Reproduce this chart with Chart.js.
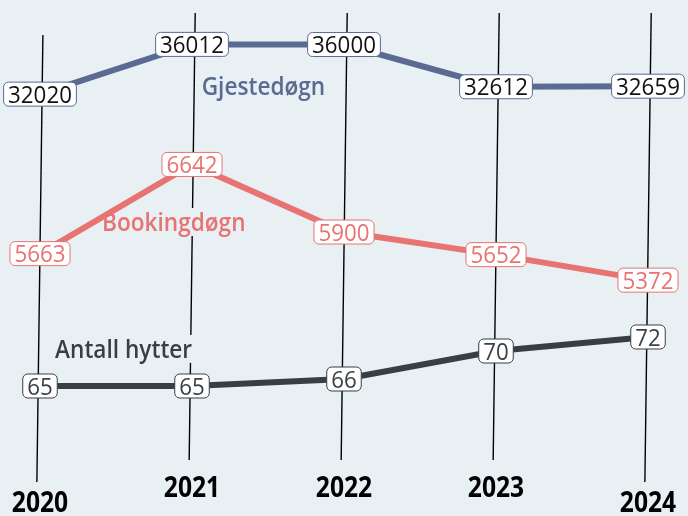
<!DOCTYPE html>
<html>
<head>
<meta charset="utf-8">
<script src="https://cdn.jsdelivr.net/npm/chart.js@4"></script>
<style>
  html, body { margin: 0; padding: 0; background: #e8f0f4; }
  #wrap { width: 688px; height: 516px; position: relative; }
</style>
</head>
<body>
<div id="wrap"><canvas id="chart"></canvas></div>
<script>
// data
const years = ['2020', '2021', '2022', '2023', '2024'];
const gjestedogn = [32020, 36012, 36000, 32612, 32659];
const bookingdogn = [5663, 6642, 5900, 5652, 5372];
const antallHytter = [65, 65, 66, 70, 72];
const seriesNames = ['Gjestedøgn', 'Bookingdøgn', 'Antall hytter'];

// look
const BG = '#e8f0f4';
const colors = ['#5a6a93', '#e87373', '#373f42'];
const valueTextColors = ['#111111', '#e87373', '#3a4245'];
const FONT = '"Open Sans", sans-serif';

// where the series names sit: [x index, value on the series' own axis]
const nameSpots = [[1.47, 32673], [0.88, 6010], [0.55, 70.3]];
// years dropped a bit lower (first and last)
const yearDrop = [1, 0, 0, 0, 1];

function textWidth(ctx, text, size, weight, sx) {
  ctx.save();
  ctx.font = weight + ' ' + size + 'px ' + FONT;
  const w = ctx.measureText(text).width * sx;
  ctx.restore();
  return w;
}

function squeezedText(ctx, text, x, y, size, weight, color, sx) {
  ctx.save();
  ctx.font = weight + ' ' + size + 'px ' + FONT;
  ctx.translate(x, y + size * 0.357);
  ctx.scale(sx, 1);
  ctx.fillStyle = color;
  ctx.textAlign = 'center';
  ctx.textBaseline = 'alphabetic';
  ctx.fillText(text, 0, 0);
  ctx.restore();
}

const decorPlugin = {
  id: 'decor',
  beforeDatasetsDraw(chart) {
    const ctx = chart.ctx;
    const xs = chart.scales.x;
    // slanted year lines
    ctx.save();
    ctx.strokeStyle = '#000';
    ctx.lineWidth = 1.4;
    years.forEach((y, i) => {
      const xc = xs.getPixelForValue(i);
      const top = i === 0 ? 35 : 13;
      const bottom = yearDrop[i] ? 482 : 460;
      ctx.beginPath();
      ctx.moveTo(xc - 0.0135 * (top - 250), top);
      ctx.lineTo(xc - 0.0135 * (bottom - 250), bottom);
      ctx.stroke();
    });
    ctx.restore();

    // series names with a background knockout
    const axes = ['yG', 'yB', 'yH'];
    seriesNames.forEach((name, i) => {
      const x = xs.getPixelForValue(nameSpots[i][0]);
      const y = chart.scales[axes[i]].getPixelForValue(nameSpots[i][1]);
      const w = textWidth(ctx, name, 25, 600, 0.905);
      ctx.fillStyle = BG;
      ctx.fillRect(x - w / 2 - 2, y - 14, w + 4, 28);
      squeezedText(ctx, name, x, y, 25, 600, colors[i], 0.905);
    });
  },
  afterDatasetsDraw(chart) {
    const ctx = chart.ctx;
    chart.data.datasets.forEach((ds, di) => {
      const meta = chart.getDatasetMeta(di);
      meta.data.forEach((pt, i) => {
        const text = String(ds.data[i]);
        const w = textWidth(ctx, text, 24, 400, 0.93) + 9;
        const h = 24;
        ctx.save();
        ctx.beginPath();
        ctx.roundRect(pt.x - w / 2, pt.y - h / 2, w, h, 5);
        ctx.fillStyle = '#ffffff';
        ctx.fill();
        ctx.lineWidth = 1;
        ctx.strokeStyle = colors[di];
        ctx.stroke();
        ctx.restore();
        squeezedText(ctx, text, pt.x, pt.y, 24, 400, valueTextColors[di], 0.93);
      });
    });
  },
  afterDraw(chart) {
    const ctx = chart.ctx;
    const xs = chart.scales.x;
    years.forEach((y, i) => {
      const x = xs.getPixelForValue(i);
      squeezedText(ctx, y, x, yearDrop[i] ? 502 : 487, 28, 700, '#000', 0.88);
    });
  }
};

new Chart(document.getElementById('chart'), {
  type: 'line',
  data: {
    labels: years,
    datasets: [
      { label: seriesNames[0], data: gjestedogn, yAxisID: 'yG', borderColor: colors[0], borderWidth: 6 },
      { label: seriesNames[1], data: bookingdogn, yAxisID: 'yB', borderColor: colors[1], borderWidth: 6 },
      { label: seriesNames[2], data: antallHytter, yAxisID: 'yH', borderColor: colors[2], borderWidth: 6 }
    ]
  },
  options: {
    responsive: true,
    maintainAspectRatio: false,
    animation: false,
    layout: { padding: { left: 40, right: 40, top: 0, bottom: 0 } },
    elements: { point: { radius: 0 }, line: { tension: 0, borderCapStyle: 'butt' } },
    plugins: { legend: { display: false }, tooltip: { enabled: false } },
    scales: {
      x: { display: false, offset: false },
      yG: { display: false, min: -1837, max: 39575 },
      yB: { display: false, min: 2783, max: 8447 },
      yH: { display: false, min: 46.43, max: 120.14 }
    }
  },
  plugins: [decorPlugin]
});
</script>
</body>
</html>
